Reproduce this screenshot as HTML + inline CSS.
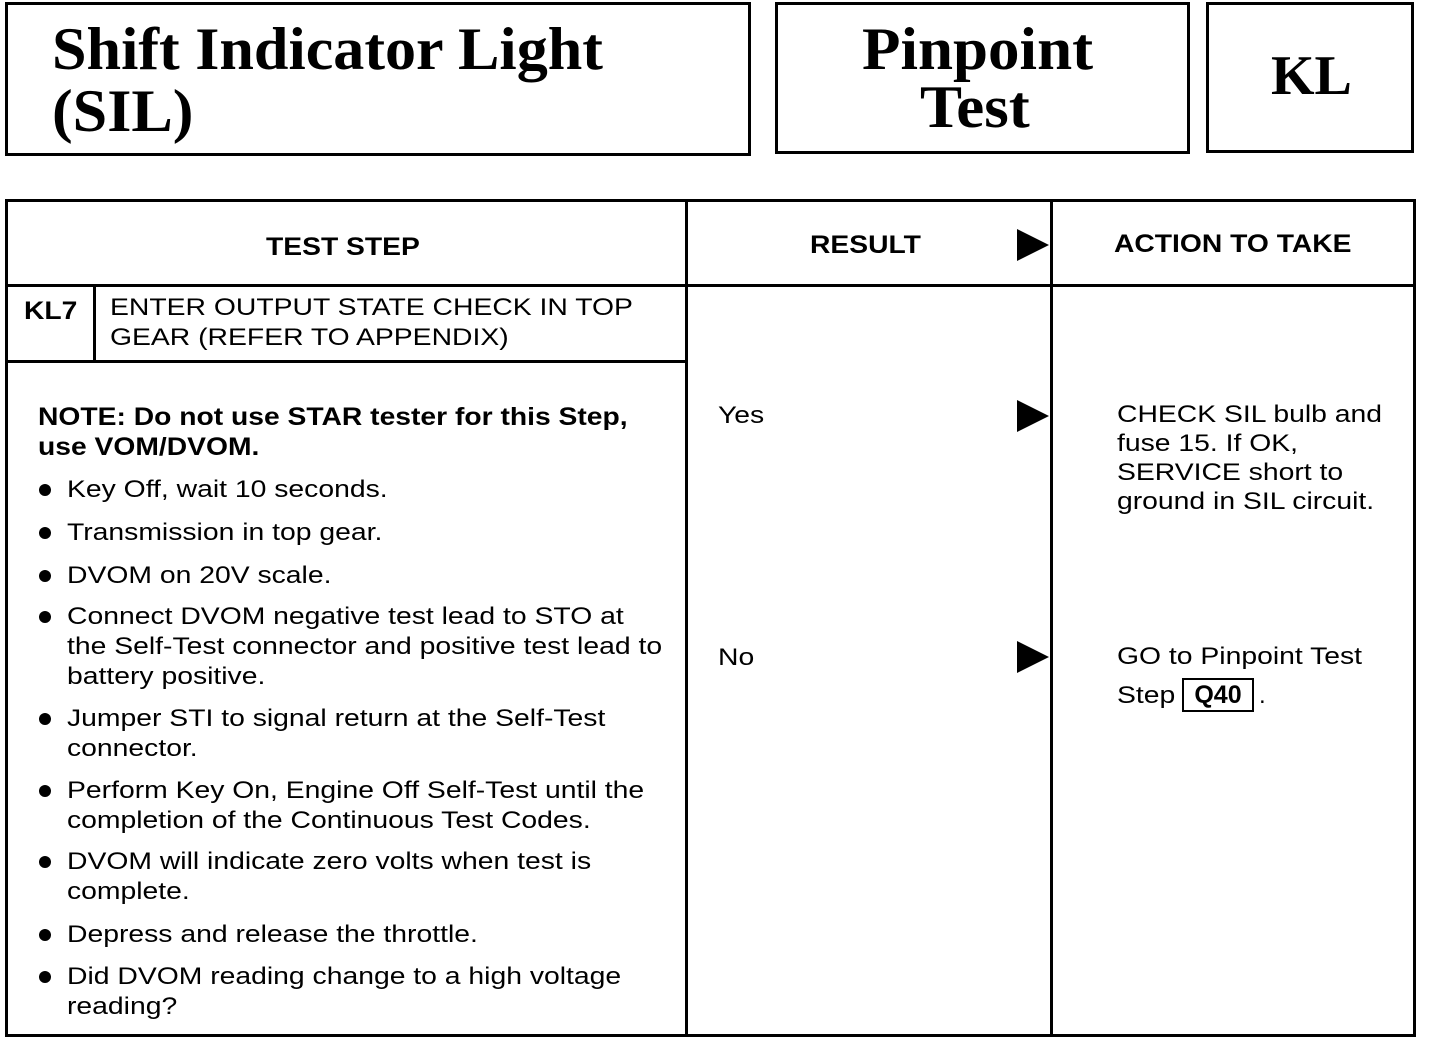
<!DOCTYPE html>
<html><head><style>
body{margin:0;width:1440px;height:1038px;background:#fff;position:relative;overflow:hidden;font-family:"Liberation Sans",sans-serif;color:#000}
.a{position:absolute}
.box{position:absolute;border:3px solid #000;box-sizing:border-box}
.serif{font-family:"Liberation Serif",serif;font-weight:bold;font-size:60px;white-space:nowrap;transform-origin:0 0}
.t{position:absolute;font-size:24px;line-height:30px;white-space:nowrap;transform:scaleX(1.18);transform-origin:0 0}
.h{font-weight:bold;font-size:25px;transform:scaleX(1.13)}
.arr{position:absolute;width:0;height:0;border-top:16px solid transparent;border-bottom:16px solid transparent;border-left:32px solid #000}
.dot{position:absolute;width:12px;height:12px;border-radius:50%;background:#000}
</style></head><body>
<div class="box" style="left:5px;top:2px;width:746px;height:154px"></div>
<div class="a serif" style="left:52px;top:18px;line-height:62px;transform:scaleX(1.035)">Shift Indicator Light<br>(SIL)</div>
<div class="box" style="left:775px;top:2px;width:415px;height:152px"></div>
<div class="a serif" style="left:862px;top:20px;line-height:58px;transform:scaleX(1.05)">Pinpoint</div>
<div class="a serif" style="left:920px;top:78px;line-height:58px;transform:scaleX(1.05)">Test</div>
<div class="box" style="left:1206px;top:2px;width:208px;height:151px"></div>
<div class="a serif" style="left:1271px;top:46px;line-height:60px;font-size:56px">KL</div>

<div class="box" style="left:5px;top:199px;width:1411px;height:838px"></div>
<div class="a" style="left:5px;top:284px;width:1410px;height:3px;background:#000"></div>
<div class="a" style="left:685px;top:200px;width:3px;height:836px;background:#000"></div>
<div class="a" style="left:1050px;top:200px;width:3px;height:836px;background:#000"></div>
<div class="a" style="left:5px;top:360px;width:682px;height:3px;background:#000"></div>
<div class="a" style="left:93px;top:286px;width:3px;height:76px;background:#000"></div>

<div class="t h" style="left:266px;top:232px">TEST STEP</div>
<div class="t h" style="left:810px;top:230px">RESULT</div>
<div class="arr" style="left:1017px;top:229px"></div>
<div class="t h" style="left:1114px;top:229px">ACTION TO TAKE</div>

<div class="t h" style="left:24px;top:296px">KL7</div>
<div class="t" style="left:110px;top:293px">ENTER OUTPUT STATE CHECK IN TOP<br>GEAR (REFER TO APPENDIX)</div>

<div class="t h" style="left:38px;top:402px">NOTE: Do not use STAR tester for this Step,<br>use VOM/DVOM.</div>
<div class="dot" style="left:39px;top:484px"></div><div class="t" style="left:67px;top:475px">Key Off, wait 10 seconds.</div>
<div class="dot" style="left:39px;top:527px"></div><div class="t" style="left:67px;top:518px">Transmission in top gear.</div>
<div class="dot" style="left:39px;top:570px"></div><div class="t" style="left:67px;top:561px">DVOM on 20V scale.</div>
<div class="dot" style="left:39px;top:611px"></div><div class="t" style="left:67px;top:602px">Connect DVOM negative test lead to STO at<br>the Self-Test connector and positive test lead to<br>battery positive.</div>
<div class="dot" style="left:39px;top:713px"></div><div class="t" style="left:67px;top:704px">Jumper STI to signal return at the Self-Test<br>connector.</div>
<div class="dot" style="left:39px;top:785px"></div><div class="t" style="left:67px;top:776px">Perform Key On, Engine Off Self-Test until the<br>completion of the Continuous Test Codes.</div>
<div class="dot" style="left:39px;top:856px"></div><div class="t" style="left:67px;top:847px">DVOM will indicate zero volts when test is<br>complete.</div>
<div class="dot" style="left:39px;top:929px"></div><div class="t" style="left:67px;top:920px">Depress and release the throttle.</div>
<div class="dot" style="left:39px;top:971px"></div><div class="t" style="left:67px;top:962px">Did DVOM reading change to a high voltage<br>reading?</div>

<div class="t" style="left:718px;top:401px">Yes</div>
<div class="arr" style="left:1017px;top:400px"></div>
<div class="t" style="left:1117px;top:400px;line-height:29px">CHECK SIL bulb and<br>fuse 15. If OK,<br>SERVICE short to<br>ground in SIL circuit.</div>

<div class="t" style="left:718px;top:643px">No</div>
<div class="arr" style="left:1017px;top:641px"></div>
<div class="t" style="left:1117px;top:642px">GO to Pinpoint Test</div>
<div class="t" style="left:1117px;top:681px">Step</div>
<div class="a" style="left:1182px;top:678px;width:72px;height:34px;border:2px solid #000;box-sizing:border-box"></div>
<div class="a" style="left:1182px;top:680px;width:72px;text-align:center;font-weight:bold;font-size:25px;line-height:30px">Q40</div>
<div class="a" style="left:1259px;top:681px;font-size:24px;line-height:30px">.</div>
</body></html>
